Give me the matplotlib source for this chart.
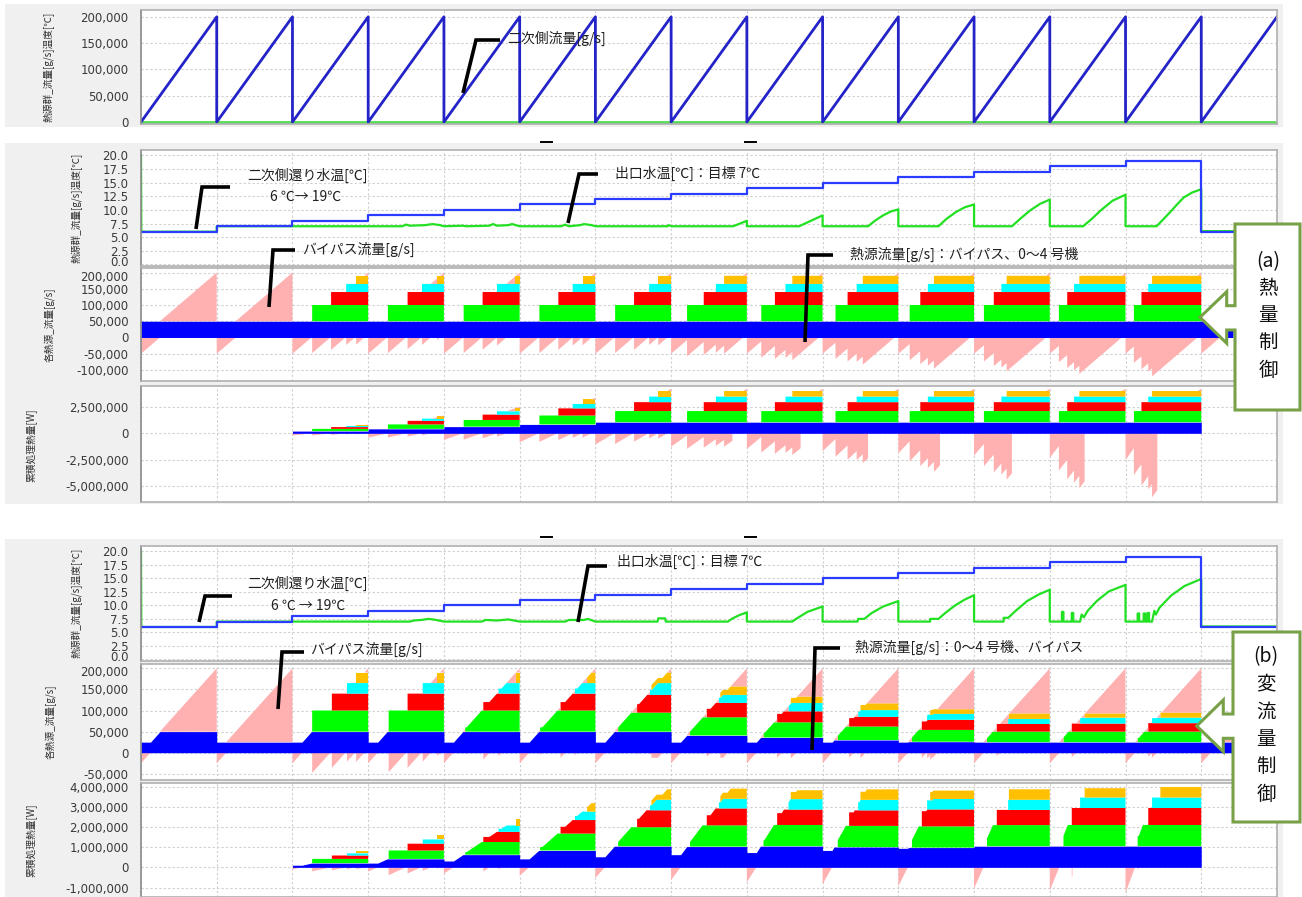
import numpy as np
import matplotlib
matplotlib.use('Agg')
import matplotlib.pyplot as plt
from matplotlib.patches import Polygon, Rectangle
from matplotlib.transforms import ScaledTranslation

plt.rcParams['font.family'] = ['Noto Sans CJK JP', 'DejaVu Sans']

W, H = 1302, 897

# ---------------- values ----------------
# x axis: 15 test cycles, secondary flow ramps 0 -> 200,000 g/s in each cycle
n_cycles = 15
sec_flow_top = 200000
sec_ret_temp = [6, 7, 8, 9, 10, 11, 12, 13, 14, 15, 16, 17, 18, 19, 6]
dt_ret = [0, 0, 1, 2, 3, 4, 5, 6, 7, 8, 9, 10, 11, 12, 0]   # return - 7 C
data_end = 14.42          # heat source logs end behind the callouts
cp = 4.186

unit_colors = ['#0000ff', '#00ff00', '#ff0000', '#00ffff', '#ffc000']
bypass_color = '#ffb0b0'

# (a) heat quantity control: units 0-4 at fixed flow, switched on at fraction of cycle
flow_a = [50000, 50000, 40000, 25000, 25000]
on_a = [
    [0.0] * 15,
    [None, None, .26, .26, .26, .26, .26, .21, .19, .17, .15, .13, .12, .11, None],
    [None, None, .51, .52, .51, .51, .51, .43, .37, .33, .29, .26, .23, .21, None],
    [None, None, .71, .71, .70, .70, .71, .59, .51, .45, .39, .36, .32, .30, None],
    [None, None, .84, .91, .94, .83, .83, .70, .60, .53, .47, .43, .39, .35, None],
]
dt_unit_a = [0, 0, 1, 2, 3, 4, 5, 5, 5, 5, 5, 5, 5, 5, 0]
cut_a = [0, 0, 1, 1, 1, 1, 1, .81, .71, .60, .55, .50, .46, .42, 0]

# (b) variable flow control
min_b = [25000, 10000, 20000, 12000, 12000]
cap_b = [
    [50000, 25000, 50000, 50000, 50000, 50000, 50000, 41000, 36000, 30000, 26000, 25000, 25000, 25000, 25000],
    [0, 0, 50000, 50000, 50000, 50000, 45000, 43000, 36000, 32000, 28000, 25000, 25000, 25000, 0],
    [0, 0, 40000, 40000, 40000, 40000, 42000, 34000, 26000, 23000, 24000, 18000, 19000, 20000, 0],
    [0, 0, 25000, 25000, 25000, 25000, 28000, 19000, 20000, 16000, 14000, 12000, 14000, 13000, 0],
    [0, 0, 25000, 25000, 25000, 25000, 25000, 20000, 15000, 16000, 11000, 13000, 10000, 12000, 0],
]
on_b = [
    [0.0] * 15,
    [None, None, .26, .27, .28, .27, .30, .25, .22, .20, .18, .17, .18, .16, None],
    [None, None, .52, .52, .52, .54, .55, .47, .40, .35, .31, .30, .29, .30, None],
    [None, None, .72, .72, .72, .73, .72, .63, .55, .47, .38, .45, .40, .35, None],
    [None, None, .84, .91, .95, .89, .74, .65, .58, .50, .42, .46, .46, .46, None],
]
track_b = [1, 0, 0, 0, 1, 1, 1, 1, 1, 1, 1, 1, 1, 1, 1]
heat_cap = [1.05e6, 1.05e6, 0.84e6, 0.52e6, 0.52e6]
cut_b = [0, 0, 1, 1, .85, .15, .15, .3, .3, .3, .3, .3, .3, .3, 0]

# outlet water temperature, (fraction of cycle, C) per cycle
out_a = [
    [(0, 20.0), (.004, 6.0), (1, 6.0)],
    [(0, 7.0), (1, 7.0)],
    [(0, 7.0), (1, 7.0)],
    [(0, 7.0), (.45, 7.0), (.5, 7.3), (.55, 7.1), (.75, 7.2), (.85, 7.4), (.95, 7.2), (1, 7.0)],
    [(0, 7.0), (.25, 7.1), (.3, 7.0), (.6, 7.1), (.65, 7.4), (.7, 7.1), (.85, 7.2), (.9, 7.4), (1, 7.0)],
    [(0, 7.0), (.55, 7.0), (.6, 7.3), (.65, 7.0), (.8, 7.2), (.85, 7.4), (.95, 7.2), (1, 7.0)],
    [(0, 7.0), (.95, 7.0), (.97, 7.2), (1, 7.0)],
    [(0, 7.0), (.82, 7.0), (1, 8.0)],
    [(0, 7.0), (.69, 7.0), (1, 9.0)],
    [(0, 7.0), (.60, 7.0), (.70, 8.1), (.80, 9.0), (.90, 9.7), (1, 10.1)],
    [(0, 7.0), (.53, 7.0), (.64, 8.4), (.76, 9.6), (.88, 10.5), (1, 11.0)],
    [(0, 7.0), (.50, 7.0), (.62, 8.5), (.74, 9.9), (.87, 11.1), (1, 11.9)],
    [(0, 7.0), (.44, 7.0), (.55, 8.3), (.68, 10.0), (.83, 11.7), (1, 12.8)],
    [(0, 7.0), (.41, 7.0), (.50, 8.3), (.59, 9.6), (.68, 11.0), (.77, 12.3), (.88, 13.2), (1, 13.8)],
    [(0, 6.1), (1, 6.1)],
]
out_b = [
    [(0, 20.0), (.004, 6.0), (1, 6.0)],
    [(0, 7.0), (1, 7.0)],
    [(0, 7.0), (1, 7.0)],
    [(0, 7.0), (.55, 7.0), (.6, 7.2), (.7, 7.3), (.8, 7.5), (.9, 7.3), (1, 7.0)],
    [(0, 7.0), (.5, 7.0), (.55, 7.3), (.7, 7.2), (.85, 7.4), (1, 7.0)],
    [(0, 7.0), (.6, 7.0), (.65, 7.3), (.85, 7.3), (.9, 7.5), (1, 7.0)],
    [(0, 7.0), (.82, 7.0), (.83, 7.6), (.92, 7.6), (.93, 7.0), (1, 7.0)],
    [(0, 7.0), (.75, 7.0), (.80, 7.5), (.90, 8.2), (1, 8.7)],
    [(0, 7.0), (.60, 7.0), (.65, 7.5), (.80, 8.8), (1, 9.8)],
    [(0, 7.0), (.46, 7.0), (.47, 7.5), (.55, 7.5), (.65, 8.6), (.80, 9.8), (1, 10.8)],
    [(0, 7.0), (.42, 7.0), (.42, 7.5), (.53, 7.5), (.62, 8.6), (.75, 10.0), (.88, 11.1), (1, 11.9)],
    [(0, 7.0), (.39, 7.0), (.39, 7.7), (.45, 7.7), (.55, 9.0), (.70, 10.8), (.85, 12.0), (1, 12.9)],
    [(0, 7.0), (.16, 7.0), (.16, 8.8), (.18, 8.8), (.18, 7.0), (.29, 7.0), (.29, 8.6), (.31, 8.6),
     (.31, 7.0), (.40, 7.0), (.42, 8.3), (.45, 7.8), (.50, 9.0), (.62, 10.8), (.78, 12.6), (1, 13.8)],
    [(0, 7.0), (.16, 7.0), (.16, 8.5), (.18, 8.5), (.18, 7.0), (.24, 7.0), (.24, 8.5), (.26, 8.5),
     (.26, 7.0), (.29, 7.0), (.29, 8.6), (.31, 8.6), (.31, 7.0), (.35, 7.0), (.38, 9.0), (.40, 8.3),
     (.45, 9.6), (.60, 11.8), (.78, 13.6), (1, 14.9)],
    [(0, 6.1), (1, 6.1)],
]

# ---------------- series on a fine time grid ----------------
t = np.arange(0, data_end, 0.0005)
cyc = np.floor(t).astype(int)
frac = t - cyc
F = sec_flow_top * frac


def on_mask(on_list):
    on = np.array([np.nan if v is None else v for v in on_list])[cyc]
    return frac >= on


flows_a = np.array([np.where(on_mask(on_a[u]), flow_a[u], 0.0) for u in range(5)])
B_a = F - flows_a.sum(0)
fa = np.array(dt_unit_a, float)[cyc] * cp
fr = np.array(dt_ret, float)[cyc] * cp
heat_a = flows_a * fa
hneg_a = np.where(frac < np.array(cut_a)[cyc], np.minimum(B_a, 0) * fr, 0)
hpos_a = np.maximum(B_a, 0) * fa

flows_b = np.zeros((5, len(t)))
cb = [np.array(c, float)[cyc] for c in cap_b]
tr = np.array(track_b)[cyc] == 1
flows_b[0] = np.minimum(np.maximum(F, min_b[0]), cb[0])
lower = flows_b[0].copy()
for u in range(1, 5):
    follow = np.minimum(np.maximum(F - lower, min_b[u]), cb[u])
    flows_b[u] = np.where(on_mask(on_b[u]), np.where(tr, follow, cb[u]), 0.0)
    lower = lower + flows_b[u]
B_b = F - flows_b.sum(0)
heat_b = np.array([np.minimum(flows_b[u] * fr, heat_cap[u]) for u in range(5)])
hneg_b = np.where(frac < np.array(cut_b)[cyc], np.minimum(B_b, 0) * fr, 0)


def knots(cycles):
    xs, ys = [], []
    for k, pts in enumerate(cycles):
        for f, v in pts:
            xs.append(k + f)
            ys.append(v)
    return xs, ys


# ---------------- figure ----------------
fig = plt.figure(figsize=(W / 100, H / 100), dpi=100)
fig.patch.set_facecolor('white')

bg = fig.add_axes([0, 0, 1, 1], zorder=-10)
bg.set_xlim(0, W)
bg.set_ylim(H, 0)
bg.axis('off')
for y0, y1 in [(4, 127), (143, 504), (539, 897)]:
    bg.add_patch(Rectangle((5, y0), 1278, y1 - y0, color='#f0f0f0', lw=0))


def ax_at(top, bot):
    a = fig.add_axes([141 / W, 1 - bot / H, (1277 - 141) / W, (bot - top) / H])
    a.set_facecolor('white')
    a.set_xlim(0, n_cycles)
    a.set_xticks(range(n_cycles + 1))
    a.set_xticklabels([])
    for s in a.spines.values():
        s.set_color('#b0b0b0')
        s.set_linewidth(1.2)
    a.spines['left'].set_color('#8a8a8a')
    a.grid(True, ls=(0, (2, 2)), color='#cfcfcf', lw=0.8)
    a.set_axisbelow(True)
    a.tick_params(length=0, pad=9, labelsize=8.5, labelcolor='#3a3a3a')
    return a


def yaxis(a, lim, ticks, fmt):
    a.set_ylim(*lim)
    a.set_yticks(ticks)
    a.set_yticklabels([fmt.format(v) for v in ticks], family='DejaVu Sans')


def nudge(a, text, dy_px):
    # keep neighbouring tick labels of stacked panels from touching
    for lbl in a.get_yticklabels():
        if lbl.get_text() == text:
            lbl.set_transform(lbl.get_transform() + ScaledTranslation(0, dy_px / 100, fig.dpi_scale_trans))


def stack(a, flows, neg, pos=None):
    a.fill_between(t, neg, 0, where=neg < 0, color=bypass_color, lw=0)
    base = np.zeros_like(t)
    for u in range(5):
        top = base + flows[u]
        a.fill_between(t, base, top, where=flows[u] > 0, color=unit_colors[u], lw=0)
        base = top
    if pos is not None:
        a.fill_between(t, base, base + pos, where=pos > 0, color=bypass_color, lw=0)


ret_x = np.repeat(np.arange(n_cycles + 1), 2)[1:-1]
ret_y = np.repeat(sec_ret_temp, 2)

# top: secondary flow
ax0 = ax_at(10, 124)
saw_x = np.repeat(np.arange(n_cycles + 1), 2)[1:-1]
saw_y = np.tile([0, sec_flow_top], n_cycles)
ax0.plot([0, n_cycles], [0, 0], color='#55dd55', lw=2)
ax0.plot(saw_x, saw_y, color='#2323c8', lw=2)
yaxis(ax0, (-3800, 213000), [0, 50000, 100000, 150000, 200000], '{:,.0f}')

flow_fmt = '{:,.0f}'
for (t_top, t_bot), (f_top, f_bot), (h_top, h_bot), outs, flows, Bv, heat, hneg, hpos, flim, fticks, hlim, hticks in [
    ((150, 266), (268, 381), (386, 502), out_a, flows_a, B_a, heat_a, hneg_a, hpos_a,
     (-134000, 214000), [-100000, -50000, 0, 50000, 100000, 150000, 200000],
     (-6.46e6, 4.45e6), [-5e6, -2.5e6, 0, 2.5e6]),
    ((546, 661), (664, 780), (783, 897), out_b, flows_b, B_b, heat_b, hneg_b, None,
     (-64700, 210200), [-50000, 0, 50000, 100000, 150000, 200000],
     (-1.47e6, 4.18e6), [-1e6, 0, 1e6, 2e6, 3e6, 4e6]),
]:
    at = ax_at(t_top, t_bot)
    ox, oy = knots(outs)
    at.plot(ox, oy, color='#22e022', lw=1.6)
    at.plot(ret_x, ret_y, color='#2a3cff', lw=1.6)
    yaxis(at, (-0.3, 21.0), [0, 2.5, 5, 7.5, 10, 12.5, 15, 17.5, 20], '{:.1f}')
    nudge(at, '0.0', 3)

    af = ax_at(f_top, f_bot)
    stack(af, flows, np.minimum(Bv, 0), np.maximum(Bv, 0))
    yaxis(af, flim, fticks, flow_fmt)
    nudge(af, '200,000', -3)

    ah = ax_at(h_top, h_bot)
    stack(ah, heat, hneg, hpos)
    yaxis(ah, hlim, hticks, flow_fmt)

# axis titles
ylab = dict(rotation=90, fontsize=7, color='#303030', ha='center', va='center')
for x, y, s in [(49, 67, '熱源群_流量[g/s]温度[℃]'),
                (77, 208, '熱源群_流量[g/s]温度[℃]'), (50, 325, '各熱源_流量[g/s]'),
                (32, 445, '累積処理熱量[W]'),
                (77, 603, '熱源群_流量[g/s]温度[℃]'), (51, 722, '各熱源_流量[g/s]'),
                (32, 840, '累積処理熱量[W]')]:
    fig.text(x / W, 1 - y / H, s, **ylab)

# annotations overlay
ov = fig.add_axes([0, 0, 1, 1], zorder=20)
ov.set_xlim(0, W)
ov.set_ylim(H, 0)
ov.axis('off')
ov.patch.set_alpha(0)

leaders = [
    [(463, 93), (476, 40), (500, 40)],
    [(196, 229), (202, 187), (230, 187)],
    [(269, 307), (273, 250), (295, 250)],
    [(568, 223), (579, 174), (598, 174)],
    [(805, 342), (808, 255), (833, 255)],
    [(199, 622), (205, 596), (232, 596)],
    [(278, 709), (282, 652), (304, 652)],
    [(578, 622), (588, 566), (607, 566)],
    [(812, 750), (815, 648), (840, 648)],
]
for pts in leaders:
    xs, ys = zip(*pts)
    ov.plot(xs, ys, color='black', lw=2.6, solid_capstyle='butt', solid_joinstyle='miter')

notes = [
    (507, 38, '二次側流量[g/s]', 'left'),
    (247, 175, '二次側還り水温[℃]', 'left'),
    (306, 197, '6 ℃→ 19℃', 'center'),
    (302, 249, 'バイパス流量[g/s]', 'left'),
    (615, 173, '出口水温[℃]：目標 7℃', 'left'),
    (850, 254, '熱源流量[g/s]：バイパス、0～4 号機', 'left'),
    (247, 583, '二次側還り水温[℃]', 'left'),
    (308, 606, '6 ℃ → 19℃', 'center'),
    (310, 649, 'バイパス流量[g/s]', 'left'),
    (617, 561, '出口水温[℃]：目標 7℃', 'left'),
    (855, 647, '熱源流量[g/s]：0～4 号機、バイパス', 'left'),
]
for x, y, s, ha in notes:
    ov.text(x, y, s, fontsize=10, color='#202020', ha=ha, va='center')

for y in (142, 537):
    for x0 in (541, 745):
        ov.plot([x0, x0 + 11], [y, y], color='black', lw=1.4)

callouts = [
    ([(1235, 224), (1235, 305.7), (1226.7, 305.7), (1226.7, 291.7), (1200, 317.3),
      (1226.7, 343.3), (1226.7, 330), (1235, 330), (1235, 410), (1300, 410), (1300, 224)],
     1268, [262, 289, 316, 343, 370], ['(a)', '熱', '量', '制', '御']),
    ([(1233, 632), (1233, 714), (1223.3, 714), (1223.3, 700), (1196.7, 726),
      (1223.3, 751.7), (1223.3, 738.3), (1233, 738.3), (1233, 822), (1300, 822), (1300, 632)],
     1266, [657, 684, 712, 739, 767, 795], ['(b)', '変', '流', '量', '制', '御']),
]
for poly, cx, ys, chars in callouts:
    ov.add_patch(Polygon(poly, closed=True, facecolor='white', edgecolor='#77a047', lw=2.2,
                         joinstyle='miter'))
    for y, ch in zip(ys, chars):
        ov.text(cx, y, ch, fontsize=14, color='#101010', ha='center', va='center')

fig.savefig('out.png', dpi=100, facecolor='white')
